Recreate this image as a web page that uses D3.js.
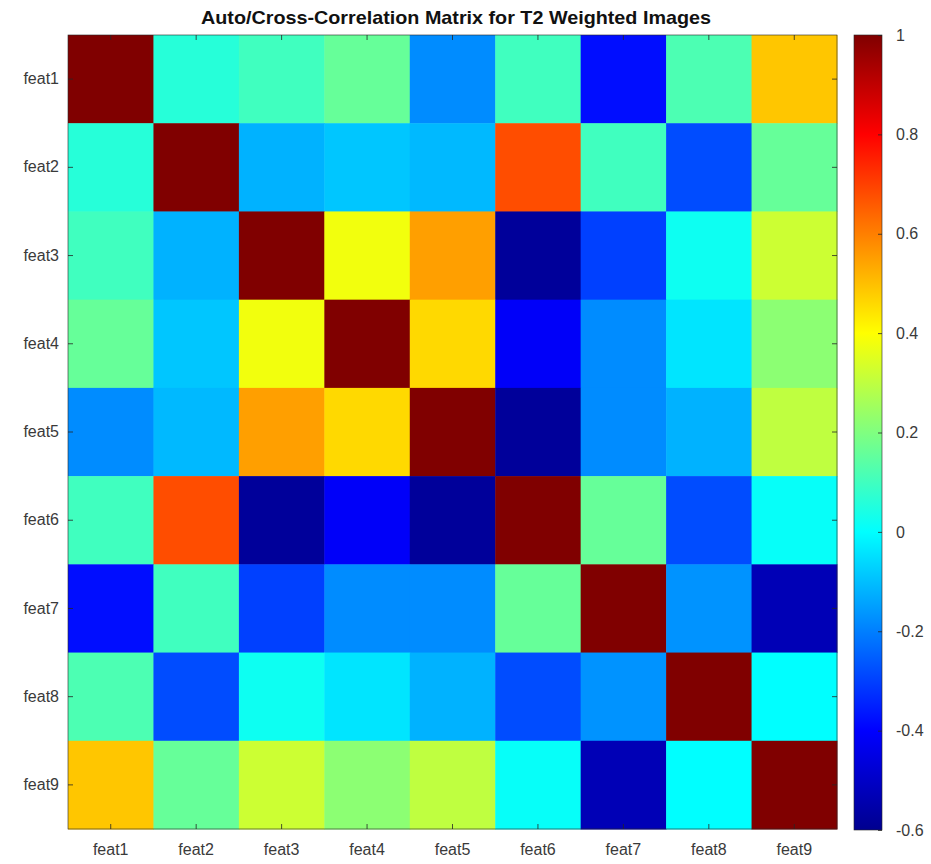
<!DOCTYPE html>
<html>
<head>
<meta charset="utf-8">
<script src="https://cdn.jsdelivr.net/npm/d3@7"></script>
<style>
  html, body { margin: 0; padding: 0; background: #ffffff; }
  svg { display: block; }
  text { font-family: "Liberation Sans", Arial, Helvetica, sans-serif; }
</style>
</head>
<body>
<svg id="chart" width="931" height="864"></svg>
<script>
// Feature names (rows and columns of the matrix)
const features = ["feat1", "feat2", "feat3", "feat4", "feat5", "feat6", "feat7", "feat8", "feat9"];

// Correlation coefficients, one row per feature
const feat1Row = [ 1.00,  0.06,  0.10,  0.16, -0.18,  0.10, -0.38,  0.12,  0.49];
const feat2Row = [ 0.06,  1.00, -0.12, -0.09, -0.11,  0.68,  0.10, -0.28,  0.16];
const feat3Row = [ 0.10, -0.12,  1.00,  0.38,  0.55, -0.58, -0.30,  0.02,  0.32];
const feat4Row = [ 0.16, -0.09,  0.38,  1.00,  0.46, -0.41, -0.18, -0.04,  0.22];
const feat5Row = [-0.18, -0.11,  0.55,  0.46,  1.00, -0.58, -0.18, -0.12,  0.30];
const feat6Row = [ 0.10,  0.68, -0.58, -0.41, -0.58,  1.00,  0.16, -0.28,  0.01];
const feat7Row = [-0.38,  0.10, -0.30, -0.18, -0.18,  0.16,  1.00, -0.17, -0.53];
const feat8Row = [ 0.12, -0.28,  0.02, -0.04, -0.12, -0.28, -0.17,  1.00,  0.00];
const feat9Row = [ 0.49,  0.16,  0.32,  0.22,  0.30,  0.01, -0.53,  0.00,  1.00];

// Colour bar limits and tick values
const colorLimits = [-0.6, 1.0];
const colorTicks = [-0.6, -0.4, -0.2, 0, 0.2, 0.4, 0.6, 0.8, 1.0];

const titleText = "Auto/Cross-Correlation Matrix for T2 Weighted Images";

const rows = [feat1Row, feat2Row, feat3Row, feat4Row, feat5Row, feat6Row, feat7Row, feat8Row, feat9Row];
const cells = [];
rows.forEach((r, i) => r.forEach((v, j) => cells.push({ row: features[i], col: features[j], value: v })));

// Layout
const plot = { left: 68, right: 837, top: 35, bottom: 829 };
const cbar = { left: 854, right: 882, top: 35, bottom: 830 };
const axisColor = "#262626";
const labelColor = "#3a3a3a";

const svg = d3.select("#chart");

// Jet colormap expressed over the colour limits
const lo = colorLimits[0], hi = colorLimits[1], span = hi - lo;
const jetStops = [0, 0.125, 0.375, 0.625, 0.875, 1];
const jetColors = ["#00008f", "#0000ff", "#00ffff", "#ffff00", "#ff0000", "#800000"];
const color = d3.scaleLinear()
  .domain(jetStops.map(t => lo + t * span))
  .range(jetColors)
  .interpolate(d3.interpolateRgb)
  .clamp(true);

const x = d3.scaleBand().domain(features).range([plot.left, plot.right]);
const y = d3.scaleBand().domain(features).range([plot.top, plot.bottom]);

// Heatmap cells
svg.append("g")
  .selectAll("rect")
  .data(cells)
  .join("rect")
  .attr("x", d => x(d.col))
  .attr("y", d => y(d.row))
  .attr("width", x.bandwidth() + 0.5)
  .attr("height", y.bandwidth() + 0.5)
  .attr("fill", d => color(d.value));

// Axes with inward ticks on all four sides
function styleAxis(g) {
  g.select(".domain").remove();
  g.selectAll(".tick line").attr("stroke", axisColor).attr("stroke-width", 0.8);
  g.selectAll(".tick text")
    .attr("fill", labelColor)
    .style("font-size", "16px");
}

svg.append("g")
  .attr("transform", `translate(0,${plot.bottom})`)
  .call(d3.axisBottom(x).tickSizeInner(-5).tickSizeOuter(0).tickPadding(15))
  .call(styleAxis);

svg.append("g")
  .attr("transform", `translate(0,${plot.top})`)
  .call(d3.axisTop(x).tickSizeInner(-5).tickSizeOuter(0).tickFormat(""))
  .call(styleAxis);

svg.append("g")
  .attr("transform", `translate(${plot.left},0)`)
  .call(d3.axisLeft(y).tickSizeInner(-5).tickSizeOuter(0).tickPadding(9))
  .call(styleAxis);

svg.append("g")
  .attr("transform", `translate(${plot.right},0)`)
  .call(d3.axisRight(y).tickSizeInner(-5).tickSizeOuter(0).tickFormat(""))
  .call(styleAxis);

// Axes box
svg.append("rect")
  .attr("x", plot.left).attr("y", plot.top)
  .attr("width", plot.right - plot.left).attr("height", plot.bottom - plot.top)
  .attr("fill", "none").attr("stroke", axisColor).attr("stroke-width", 0.6);

// Colour bar
const defs = svg.append("defs");
const grad = defs.append("linearGradient")
  .attr("id", "jetGradient")
  .attr("x1", 0).attr("y1", 1).attr("x2", 0).attr("y2", 0);
grad.selectAll("stop")
  .data(d3.range(0, 1.0001, 1 / 64))
  .join("stop")
  .attr("offset", t => t)
  .attr("stop-color", t => color(lo + t * span));

svg.append("rect")
  .attr("x", cbar.left).attr("y", cbar.top)
  .attr("width", cbar.right - cbar.left).attr("height", cbar.bottom - cbar.top)
  .attr("fill", "url(#jetGradient)")
  .attr("stroke", axisColor).attr("stroke-width", 0.6);

const cScale = d3.scaleLinear().domain(colorLimits).range([cbar.bottom, cbar.top]);
svg.append("g")
  .attr("transform", `translate(${cbar.right},0)`)
  .call(d3.axisRight(cScale)
    .tickValues(colorTicks)
    .tickSizeInner(-4).tickSizeOuter(0).tickPadding(14)
    .tickFormat(d => String(+d.toFixed(1))))
  .call(styleAxis);

// Title
svg.append("text")
  .attr("x", 456)
  .attr("y", 24)
  .attr("text-anchor", "middle")
  .attr("fill", "#111111")
  .attr("textLength", 510)
  .attr("lengthAdjust", "spacingAndGlyphs")
  .style("font-size", "19px")
  .style("font-weight", "bold")
  .text(titleText);
</script>
</body>
</html>
